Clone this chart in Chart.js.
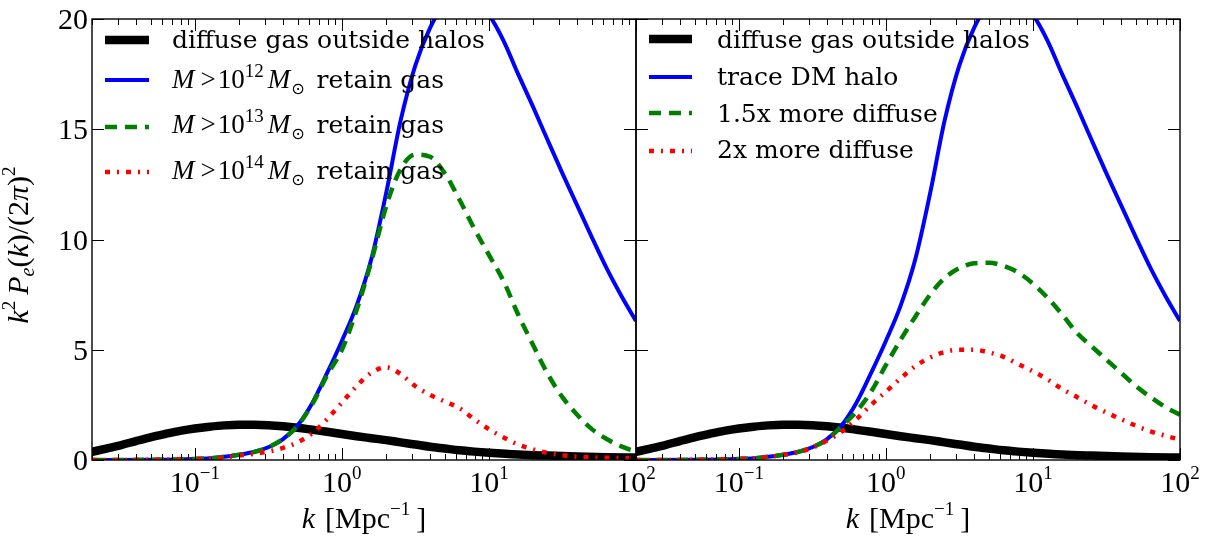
<!DOCTYPE html>
<html>
<head>
<meta charset="utf-8">
<title>electron power spectrum</title>
<script src="https://cdn.jsdelivr.net/npm/chart.js@4.4.1/dist/chart.umd.min.js"></script>
<style>
  body { margin: 0; background: #fff; }
  #wrap { position: relative; width: 1217px; height: 540px; }
  #wrap canvas { position: absolute; left: 0; top: 0; }
</style>
</head>
<body>
<div id="wrap">
  <canvas id="leftPanel" width="1217" height="540"></canvas>
  <canvas id="rightPanel" width="1217" height="540"></canvas>
</div>
<script>
// values: k in Mpc^-1, y = k^2 P_e(k) / (2 pi)^2

// diffuse gas outside halos (same curve in both panels)
const kDiffuse = [0.02, 0.025, 0.0316, 0.0398, 0.05, 0.063, 0.0794, 0.1, 0.126, 0.158, 0.2, 0.251, 0.316, 0.398, 0.5, 0.631, 0.794, 1, 1.26, 1.585, 2, 2.51, 3.16, 3.98, 5.01, 6.31, 7.94, 10, 15.8, 25.1, 39.8, 63.1, 100];
const yDiffuse = [0.37, 0.52, 0.68, 0.86, 1.03, 1.18, 1.32, 1.43, 1.51, 1.57, 1.6, 1.6, 1.58, 1.53, 1.46, 1.37, 1.28, 1.18, 1.08, 0.99, 0.9, 0.8, 0.7, 0.6, 0.52, 0.44, 0.38, 0.33, 0.25, 0.2, 0.16, 0.13, 0.11];

// M > 1e12 Msun retain gas  /  trace DM halo (same curve)
const kHalo = [0.02, 0.05, 0.1, 0.126, 0.158, 0.2, 0.251, 0.316, 0.398, 0.5, 0.631, 0.794, 1, 1.26, 1.585, 2, 2.51, 3.16, 3.98, 5.01, 6.31, 7.94, 10, 12.6, 15.8, 20, 25.1, 31.6, 39.8, 50.1, 63.1, 79.4, 100];
const yHalo = [0, 0.01, 0.05, 0.08, 0.15, 0.24, 0.36, 0.58, 0.95, 1.57, 2.6, 3.95, 5.4, 7.0, 9.1, 12.1, 15.4, 17.9, 19.6, 20.7, 21.2, 21.0, 20.2, 19.0, 17.5, 16.0, 14.5, 13.0, 11.55, 10.1, 8.7, 7.45, 6.3];

// M > 1e13 Msun retain gas
const kM13 = [0.02, 0.05, 0.1, 0.126, 0.158, 0.2, 0.251, 0.316, 0.398, 0.5, 0.631, 0.794, 1, 1.26, 1.585, 2, 2.51, 3.16, 3.98, 5.01, 6.31, 7.94, 10, 12.6, 15.8, 20, 25.1, 31.6, 39.8, 50.1, 63.1, 79.4, 100];
const yM13 = [0, 0.01, 0.05, 0.08, 0.15, 0.24, 0.36, 0.58, 0.95, 1.55, 2.55, 3.85, 5.0, 6.8, 9.0, 11.5, 13.2, 13.85, 13.75, 13.0, 11.8, 10.5, 9.3, 8.1, 6.6, 5.2, 3.9, 2.85, 2.05, 1.4, 0.95, 0.62, 0.38];

// M > 1e14 Msun retain gas
const kM14 = [0.02, 0.05, 0.1, 0.126, 0.158, 0.2, 0.251, 0.316, 0.398, 0.5, 0.631, 0.794, 1, 1.26, 1.585, 2, 2.51, 3.16, 3.98, 5.01, 6.31, 7.94, 10, 12.6, 15.8, 20, 25.1, 31.6, 39.8, 63.1, 100];
const yM14 = [0, 0.01, 0.04, 0.07, 0.12, 0.2, 0.28, 0.38, 0.55, 0.8, 1.22, 1.85, 2.6, 3.35, 3.95, 4.2, 3.9, 3.35, 2.95, 2.65, 2.35, 1.85, 1.4, 1.02, 0.7, 0.48, 0.32, 0.22, 0.15, 0.1, 0.08];

// 1.5x more diffuse
const kDiff15 = [0.02, 0.05, 0.1, 0.126, 0.158, 0.2, 0.251, 0.316, 0.398, 0.5, 0.631, 0.794, 1, 1.26, 1.585, 2, 2.51, 3.16, 3.98, 5.01, 6.31, 7.94, 10, 12.6, 15.8, 20, 25.1, 31.6, 39.8, 50.1, 63.1, 79.4, 100];
const yDiff15 = [0, 0.01, 0.05, 0.08, 0.15, 0.24, 0.36, 0.58, 0.93, 1.52, 2.2, 3.1, 4.3, 5.45, 6.5, 7.5, 8.25, 8.7, 8.92, 8.95, 8.8, 8.5, 8.0, 7.35, 6.6, 5.75, 5.15, 4.55, 3.95, 3.35, 2.85, 2.4, 2.05];

// 2x more diffuse
const kDiff2 = [0.02, 0.05, 0.1, 0.126, 0.158, 0.2, 0.251, 0.316, 0.398, 0.5, 0.631, 0.794, 1, 1.26, 1.585, 2, 2.51, 3.16, 3.98, 5.01, 6.31, 7.94, 10, 12.6, 15.8, 20, 25.1, 31.6, 39.8, 50.1, 63.1, 79.4, 100];
const yDiff2 = [0, 0.01, 0.05, 0.08, 0.14, 0.23, 0.35, 0.55, 0.88, 1.28, 1.85, 2.5, 3.1, 3.7, 4.25, 4.65, 4.9, 5.0, 5.0, 4.88, 4.68, 4.35, 4.02, 3.65, 3.22, 2.85, 2.48, 2.15, 1.85, 1.55, 1.3, 1.1, 0.92];

// axes
const xTickValues = [0.1, 1, 10, 100];
const xTickExponents = ['\u22121', '0', '1', '2'];
const yTickValues = [0, 5, 10, 15, 20];
const yTickLabels = ['0', '5', '10', '15', '20'];

function pts(ks, ys) {
    return ks.map(function(k, i) { return { x: k, y: ys[i] }; });
}

// little rich text helper for the mathtext bits
const AXIS_FONTS = {
    r:    { font: '30px "Liberation Serif"', dy: 0 },
    i:    { font: 'italic 30px "Liberation Serif"', dy: 0 },
    sup:  { font: '19px "Liberation Serif"', dy: -13 },
    subi: { font: 'italic 20px "Liberation Serif"', dy: 6 }
};
const LEGEND_FONTS = {
    t:   { font: '25px "DejaVu Serif"', dy: 0 },
    mi:  { font: 'italic 27px "Liberation Serif"', dy: 0 },
    mr:  { font: '27px "Liberation Serif"', dy: 0 },
    sup: { font: '19px "Liberation Serif"', dy: -11 },
    sub: { font: '16px "DejaVu Sans"', dy: 6 }
};

function drawRich(ctx, parts, x, y, fonts, measureOnly) {
    var cx = x;
    parts.forEach(function(p) {
        if (typeof p === 'number') { cx += p; return; }
        var f = fonts[p[1]];
        ctx.font = f.font;
        if (!measureOnly) ctx.fillText(p[0], cx, y + f.dy);
        cx += ctx.measureText(p[0]).width;
    });
    return cx - x;
}

function massLabel(exp) {
    return [['M', 'mi'], 6, ['>', 'mr'], 2, ['10', 'mr'], [exp, 'sup'], 4, ['M', 'mi'], 1, ['\u2299', 'sub'], 12, ['retain gas', 't']];
}

function panelPlugin(cfg) {
    return {
        id: 'panel',
        afterDatasetsDraw: function(chart) {
            var ctx = chart.ctx, a = chart.chartArea;
            var xs = chart.scales.x, ys = chart.scales.y;
            ctx.save();

            // ticks point inwards on all four sides
            ctx.strokeStyle = '#000';
            ctx.lineWidth = 1;
            ctx.beginPath();
            for (var d = -2; d <= 2; d++) {
                for (var m = 1; m <= 9; m++) {
                    var v = m * Math.pow(10, d);
                    if (v < xs.min * 0.999 || v > xs.max * 1.001) continue;
                    var px = Math.round(xs.getPixelForValue(v)) + 0.5;
                    var len = m === 1 ? 12 : 6;
                    ctx.moveTo(px, a.bottom); ctx.lineTo(px, a.bottom - len);
                    ctx.moveTo(px, a.top); ctx.lineTo(px, a.top + len);
                }
            }
            yTickValues.forEach(function(v) {
                var py = Math.round(ys.getPixelForValue(v)) + 0.5;
                ctx.moveTo(a.left, py); ctx.lineTo(a.left + 12, py);
                ctx.moveTo(a.right, py); ctx.lineTo(a.right - 12, py);
            });
            ctx.stroke();

            ctx.lineWidth = 1.4;
            ctx.strokeRect(a.left, a.top, a.right - a.left, a.bottom - a.top);

            ctx.fillStyle = '#000';
            ctx.textBaseline = 'alphabetic';

            // x tick labels 10^n
            xTickValues.forEach(function(v, i) {
                var parts = [['10', 'r'], [xTickExponents[i], 'sup']];
                var w = drawRich(ctx, parts, 0, 0, AXIS_FONTS, true);
                drawRich(ctx, parts, xs.getPixelForValue(v) - w / 2, a.bottom + 32, AXIS_FONTS);
            });

            // x title
            var title = [['k', 'i'], 10, ['[Mpc', 'r'], ['\u22121', 'sup'], 6, [']', 'r']];
            var tw = drawRich(ctx, title, 0, 0, AXIS_FONTS, true);
            drawRich(ctx, title, (a.left + a.right) / 2 - tw / 2, 528, AXIS_FONTS);

            if (cfg.yAxis) {
                ctx.font = AXIS_FONTS.r.font;
                ctx.textAlign = 'right';
                yTickValues.forEach(function(v, i) {
                    ctx.fillText(yTickLabels[i], a.left - 4, ys.getPixelForValue(v) + 10);
                });
                ctx.textAlign = 'left';

                var ylab = [['k', 'i'], ['2', 'sup'], 6, ['P', 'i'], ['e', 'subi'], ['(', 'r'], ['k', 'i'], [')', 'r'],
                            ['/', 'r'], ['(', 'r'], ['2', 'r'], ['\u03c0', 'i'], [')', 'r'], ['2', 'sup']];
                var yw = drawRich(ctx, ylab, 0, 0, AXIS_FONTS, true);
                ctx.save();
                ctx.translate(28, 245);
                ctx.rotate(-Math.PI / 2);
                drawRich(ctx, ylab, -yw / 2, 0, AXIS_FONTS);
                ctx.restore();
            }

            // legend, no frame
            var lg = cfg.legend;
            lg.rows.forEach(function(r, i) {
                var ds = chart.data.datasets[i];
                ctx.strokeStyle = ds.borderColor;
                ctx.lineWidth = ds.borderWidth;
                ctx.lineCap = 'butt';
                ctx.setLineDash(ds.borderDash || []);
                ctx.beginPath();
                ctx.moveTo(lg.hx1, r.y);
                ctx.lineTo(lg.hx2, r.y);
                ctx.stroke();
                ctx.setLineDash([]);
                ctx.fillStyle = '#000';
                drawRich(ctx, r.parts, lg.tx, r.base, LEGEND_FONTS);
            });

            ctx.restore();
        }
    };
}

function line(label, ks, ys, style, order) {
    return Object.assign({
        label: label,
        data: pts(ks, ys),
        fill: false,
        clip: 0,
        order: order,
        pointRadius: 0,
        cubicInterpolationMode: 'monotone'
    }, style);
}

var black = { borderColor: '#000000', borderWidth: 8.5 };
var blue = { borderColor: '#0000ff', borderWidth: 4 };
var green = { borderColor: '#008000', borderWidth: 4.5, borderDash: [12, 8] };
var red = { borderColor: '#ff0000', borderWidth: 4.5, borderDash: [5, 7, 2, 7] };

function makePanel(id, datasets, padding, cfg) {
    return new Chart(document.getElementById(id), {
        type: 'line',
        data: { datasets: datasets },
        options: {
            responsive: false,
            animation: false,
            events: [],
            layout: { padding: padding },
            scales: {
                x: { type: 'logarithmic', min: 0.02, max: 100, display: false },
                y: { type: 'linear', min: 0, max: 20, display: false }
            },
            plugins: { legend: { display: false }, tooltip: { enabled: false } }
        },
        plugins: [panelPlugin(cfg)]
    });
}

makePanel('leftPanel', [
    line('diffuse gas outside halos', kDiffuse, yDiffuse, black, 4),
    line('M>10^12 Msun retain gas', kHalo, yHalo, blue, 3),
    line('M>10^13 Msun retain gas', kM13, yM13, green, 2),
    line('M>10^14 Msun retain gas', kM14, yM14, red, 1)
], { left: 92, top: 19, right: 1217 - 636, bottom: 80 }, {
    yAxis: true,
    legend: {
        hx1: 105, hx2: 149, tx: 172,
        rows: [
            { y: 40, base: 48, parts: [['diffuse gas outside halos', 't']] },
            { y: 80, base: 88, parts: massLabel('12') },
            { y: 127, base: 133, parts: massLabel('13') },
            { y: 172, base: 179, parts: massLabel('14') }
        ]
    }
});

makePanel('rightPanel', [
    line('diffuse gas outside halos', kDiffuse, yDiffuse, black, 4),
    line('trace DM halo', kHalo, yHalo, blue, 3),
    line('1.5x more diffuse', kDiff15, yDiff15, green, 2),
    line('2x more diffuse', kDiff2, yDiff2, red, 1)
], { left: 636, top: 19, right: 1217 - 1180, bottom: 80 }, {
    yAxis: false,
    legend: {
        hx1: 649, hx2: 692, tx: 717,
        rows: [
            { y: 39, base: 48, parts: [['diffuse gas outside halos', 't']] },
            { y: 77, base: 85, parts: [['trace DM halo', 't']] },
            { y: 113, base: 122, parts: [['1.5x more diffuse', 't']] },
            { y: 151, base: 158, parts: [['2x more diffuse', 't']] }
        ]
    }
});
</script>
</body>
</html>
